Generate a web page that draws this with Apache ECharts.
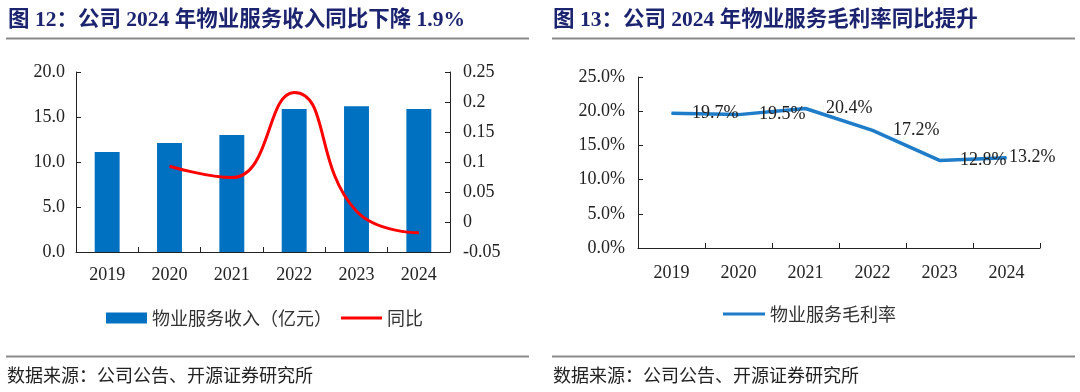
<!DOCTYPE html>
<html>
<head>
<meta charset="utf-8">
<script src="https://cdn.jsdelivr.net/npm/echarts@6/dist/echarts.min.js"></script>
<style>
html,body{margin:0;padding:0;background:#fff;}
#c{width:1080px;height:392px;}
</style>
</head>
<body>
<div id="c"></div>
<script>
// ---- data ----
const years = ['2019', '2020', '2021', '2022', '2023', '2024'];
const revenue = [11.1, 12.1, 13.0, 15.9, 16.2, 15.9];          // 物业服务收入（亿元）
const yoy = [null, 0.093, 0.074, 0.216, 0.018, -0.018];         // 同比
const grossMargin = [19.7, 19.5, 20.4, 17.2, 12.8, 13.2];       // 物业服务毛利率 (%)
const title1 = '图 12：公司 2024 年物业服务收入同比下降 1.9%';
const title2 = '图 13：公司 2024 年物业服务毛利率同比提升';
const sourceText = '数据来源：公司公告、开源证券研究所';

const FONT = "'Liberation Serif', 'Noto Sans CJK SC', serif";
const CJK = "'Noto Sans CJK SC', sans-serif";
const AX = '#222';
const LINE_ICON = 'path://M0,0L40,0L40,3L0,3Z';

const chart = echarts.init(document.getElementById('c'), null, {renderer: 'canvas'});

const axisCommon = {
  axisLine: {show: true, lineStyle: {color: AX, width: 1}},
  axisTick: {show: true, inside: true, length: 5, lineStyle: {color: AX}},
  splitLine: {show: false},
  axisLabel: {fontFamily: FONT, fontSize: 18, color: '#222'}
};

function yoyFmt(v) { return String(parseFloat(v.toFixed(2))); }

// last label sits close to its point (kept inside the plot, as in the reference)
const marginData = grossMargin.map((v, i) =>
  i === grossMargin.length - 1 ? {value: v, label: {distance: 2}} : v);

const option = {
  backgroundColor: '#fff',
  animation: false,
  textStyle: {fontFamily: FONT},
  grid: [
    {left: 76, top: 72, width: 374, height: 180},
    {left: 638, top: 77, width: 402, height: 171}
  ],
  xAxis: [
    Object.assign({}, axisCommon, {
      type: 'category', gridIndex: 0, data: years, boundaryGap: true,
      axisLabel: Object.assign({}, axisCommon.axisLabel, {margin: 14})
    }),
    Object.assign({}, axisCommon, {
      type: 'category', gridIndex: 1, data: years, boundaryGap: true,
      axisLabel: Object.assign({}, axisCommon.axisLabel, {margin: 16})
    })
  ],
  yAxis: [
    Object.assign({}, axisCommon, {
      type: 'value', gridIndex: 0, min: 0, max: 20, interval: 5,
      axisLabel: Object.assign({}, axisCommon.axisLabel, {margin: 11, formatter: v => v.toFixed(1)})
    }),
    Object.assign({}, axisCommon, {
      type: 'value', gridIndex: 0, position: 'right', min: -0.05, max: 0.25, interval: 0.05,
      axisLabel: Object.assign({}, axisCommon.axisLabel, {margin: 13, formatter: yoyFmt})
    }),
    Object.assign({}, axisCommon, {
      type: 'value', gridIndex: 1, min: 0, max: 25, interval: 5,
      axisLabel: Object.assign({}, axisCommon.axisLabel, {margin: 13, formatter: v => v.toFixed(1) + '%'})
    })
  ],
  legend: [
    {
      left: 106, top: 309, padding: 0, itemGap: 9, itemWidth: 41, itemHeight: 11,
      textStyle: {fontFamily: CJK, fontSize: 18, lineHeight: 18, color: '#333'},
      data: [{name: '物业服务收入（亿元）', icon: 'rect'}, {name: '同比', icon: LINE_ICON}]
    },
    {
      left: 723, top: 305, padding: 0, itemWidth: 42, itemHeight: 11,
      textStyle: {fontFamily: CJK, fontSize: 18, lineHeight: 18, color: '#333'},
      data: [{name: '物业服务毛利率', icon: LINE_ICON}]
    }
  ],
  series: [
    {
      name: '物业服务收入（亿元）', type: 'bar', xAxisIndex: 0, yAxisIndex: 0,
      data: revenue, barWidth: '40%', itemStyle: {color: '#0070C0'}
    },
    {
      name: '同比', type: 'line', xAxisIndex: 0, yAxisIndex: 1,
      data: yoy, smooth: 0.5, symbol: 'none',
      lineStyle: {color: '#FF0000', width: 3}, itemStyle: {color: '#FF0000'}
    },
    {
      name: '物业服务毛利率', type: 'line', xAxisIndex: 1, yAxisIndex: 2,
      data: marginData, symbol: 'circle', symbolSize: 1, showSymbol: true,
      lineStyle: {color: '#1F7CC8', width: 3.5}, itemStyle: {color: '#1F7CC8'},
      labelLayout: {hideOverlap: false},
      label: {show: true, position: 'right', distance: 20, fontFamily: FONT, fontSize: 18, color: '#222',
              formatter: p => p.value.toFixed(1) + '%'}
    }
  ],
  graphic: [
    {type: 'text', style: {text: title1, x: 8, y: 20, font: "bold 21.5px 'Liberation Serif', 'Noto Sans CJK SC', serif", fill: '#1c2470', verticalAlign: 'middle'}},
    {type: 'text', style: {text: title2, x: 553, y: 20, font: "bold 21.5px 'Liberation Serif', 'Noto Sans CJK SC', serif", fill: '#1c2470', verticalAlign: 'middle'}},
    {type: 'line', shape: {x1: 6, y1: 38.5, x2: 529, y2: 38.5}, style: {stroke: '#8a8a8a', lineWidth: 2}},
    {type: 'line', shape: {x1: 552, y1: 38.5, x2: 1075, y2: 38.5}, style: {stroke: '#8a8a8a', lineWidth: 2}},
    {type: 'line', shape: {x1: 6, y1: 356.5, x2: 529, y2: 356.5}, style: {stroke: '#8a8a8a', lineWidth: 2}},
    {type: 'line', shape: {x1: 552, y1: 356.5, x2: 1075, y2: 356.5}, style: {stroke: '#8a8a8a', lineWidth: 2}},
    {type: 'text', style: {text: sourceText, x: 7, y: 375, font: "18px 'Noto Sans CJK SC', sans-serif", fill: '#222', verticalAlign: 'middle'}},
    {type: 'text', style: {text: sourceText, x: 553, y: 375, font: "18px 'Noto Sans CJK SC', sans-serif", fill: '#222', verticalAlign: 'middle'}}
  ]
};
chart.setOption(option);
</script>
</body>
</html>
